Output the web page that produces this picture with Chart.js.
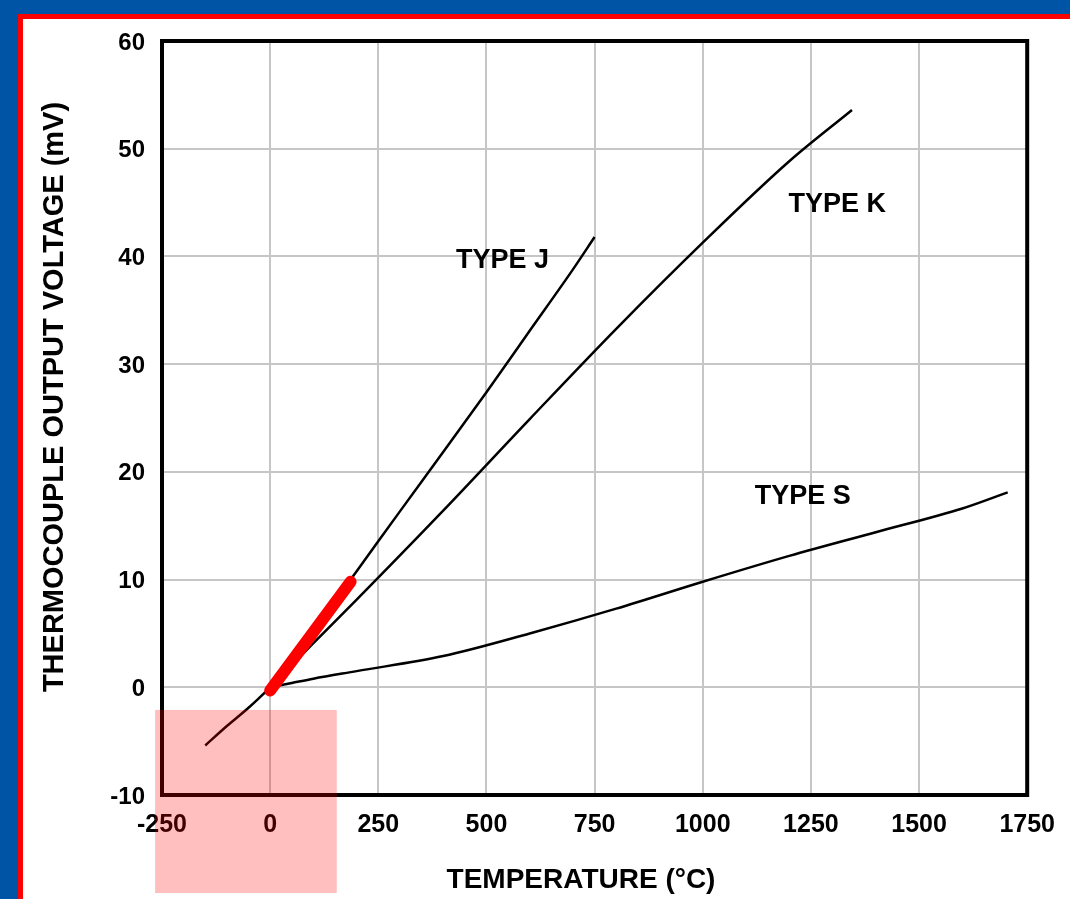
<!DOCTYPE html>
<html>
<head>
<meta charset="utf-8">
<script src="https://cdn.jsdelivr.net/npm/chart.js@4/dist/chart.umd.min.js"></script>
<style>
  html, body { margin: 0; padding: 0; width: 1070px; height: 899px; overflow: hidden; background: #0054a6; }
  #frame { position: absolute; left: 18px; top: 14px; width: 1070px; height: 900px; border: 5px solid #ff0000; background: #fff; }
  #wrap { position: absolute; left: 0; top: 0; width: 1070px; height: 899px; }
</style>
</head>
<body>
<div id="frame"></div>
<div id="wrap"><canvas id="tcChart"></canvas></div>
<script>
// thermocouple output, temperature in degC, voltage in mV

var jTemp = [0, 100, 200, 300, 400, 500, 600, 700, 750];
var jVolt = [0, 5.27, 10.78, 16.33, 21.85, 27.39, 33.10, 38.8, 41.8];

var kTemp = [-150, -100, -50, 0, 100, 200, 400, 600, 800, 1000, 1200, 1345];
var kVolt = [-5.4, -3.6, -1.9, 0, 4.10, 8.14, 16.40, 24.90, 33.28, 41.28, 48.84, 53.6];

var sTemp = [0, 50, 100, 200, 400, 600, 800, 1000, 1200, 1400, 1600, 1705];
var sVolt = [0, 0.4, 0.8, 1.5, 2.9, 5.0, 7.3, 9.8, 12.2, 14.4, 16.6, 18.1];

var redTemp = [0, 186];
var redVolt = [-0.3, 9.8];

var xTicks = [-250, 0, 250, 500, 750, 1000, 1250, 1500, 1750];
var yTicks = [-10, 0, 10, 20, 30, 40, 50, 60];

// curve labels: [text, temp, mV]
var curveLabels = [
  ['TYPE J', 537, 39.6],
  ['TYPE K', 1311, 44.8],
  ['TYPE S', 1231, 17.7]
];

// shaded box in data units: temp from/to, mV from/to
var boxTemp = [-266, 154];
var boxVolt = [-2.1, -19.1];

function pts(xs, ys) {
  var out = [];
  for (var i = 0; i < xs.length; i++) out.push({x: xs[i], y: ys[i]});
  return out;
}

var fam = '"Liberation Sans", Arial, sans-serif';

var extras = {
  id: 'extras',
  beforeDatasetsDraw: function(chart) {
    var a = chart.chartArea, c = chart.ctx;
    c.save();
    c.strokeStyle = '#000';
    c.lineWidth = 4;
    c.strokeRect(a.left, a.top, a.right - a.left, a.bottom - a.top);
    c.restore();
  },
  afterDatasetsDraw: function(chart) {
    var c = chart.ctx, xs = chart.scales.x, ys = chart.scales.y;
    c.save();
    c.fillStyle = '#000';
    c.font = 'bold 27px ' + fam;
    c.textAlign = 'center';
    c.textBaseline = 'middle';
    curveLabels.forEach(function(l) {
      c.fillText(l[0], xs.getPixelForValue(l[1]), ys.getPixelForValue(l[2]));
    });
    // axis titles
    c.font = 'bold 28px ' + fam;
    c.fillText('TEMPERATURE (°C)', 581, 880);
    c.translate(55, 397);
    c.rotate(-Math.PI / 2);
    c.font = 'bold 29px ' + fam;
    c.fillText('THERMOCOUPLE OUTPUT VOLTAGE (mV)', 0, 0);
    c.restore();
  },
  afterDraw: function(chart) {
    var c = chart.ctx, xs = chart.scales.x, ys = chart.scales.y;
    var x1 = xs.getPixelForValue(boxTemp[0]), x2 = xs.getPixelForValue(boxTemp[1]);
    var y1 = ys.getPixelForValue(boxVolt[0]), y2 = ys.getPixelForValue(boxVolt[1]);
    c.save();
    c.fillStyle = 'rgba(255, 0, 0, 0.25)';
    c.fillRect(x1, y1, x2 - x1, y2 - y1);
    c.restore();
  }
};

Chart.defaults.font.family = fam;

var ctx = document.getElementById('tcChart');

new Chart(ctx, {
  type: 'scatter',
  data: {
    datasets: [
      { label: 'Type J', data: pts(jTemp, jVolt), showLine: true, borderColor: '#000', borderWidth: 2.5, pointRadius: 0, cubicInterpolationMode: 'monotone' },
      { label: 'Type K', data: pts(kTemp, kVolt), showLine: true, borderColor: '#000', borderWidth: 2.5, pointRadius: 0, cubicInterpolationMode: 'monotone' },
      { label: 'Type S', data: pts(sTemp, sVolt), showLine: true, borderColor: '#000', borderWidth: 2.5, pointRadius: 0, cubicInterpolationMode: 'monotone' },
      { label: 'range', data: pts(redTemp, redVolt), showLine: true, borderColor: '#ff0000', borderWidth: 12, borderCapStyle: 'round', pointRadius: 0, order: -1 }
    ]
  },
  options: {
    responsive: true,
    maintainAspectRatio: false,
    animation: false,
    layout: { padding: { left: 0, top: 41, right: 37, bottom: 0 } },
    plugins: {
      legend: { display: false },
      tooltip: { enabled: false }
    },
    scales: {
      x: {
        type: 'linear',
        min: -250,
        max: 1750,
        afterFit: function(s) { s.height = 104; },
        afterBuildTicks: function(s) { s.ticks = xTicks.map(function(v) { return {value: v}; }); },
        grid: { color: '#c6c6c6', lineWidth: 2, drawTicks: false },
        border: { display: false },
        ticks: { color: '#000', padding: 15, font: { size: 25, weight: 'bold' }, callback: function(v) { return String(v); } }
      },
      y: {
        min: -10,
        max: 60,
        afterFit: function(s) { s.width = 162; },
        afterBuildTicks: function(s) { s.ticks = yTicks.map(function(v) { return {value: v}; }); },
        grid: { color: '#c6c6c6', lineWidth: 2, drawTicks: false },
        border: { display: false },
        ticks: { color: '#000', padding: 17, labelOffset: 2, font: { size: 24, weight: 'bold' }, callback: function(v) { return String(v); } }
      }
    }
  },
  plugins: [extras]
});
</script>
</body>
</html>
